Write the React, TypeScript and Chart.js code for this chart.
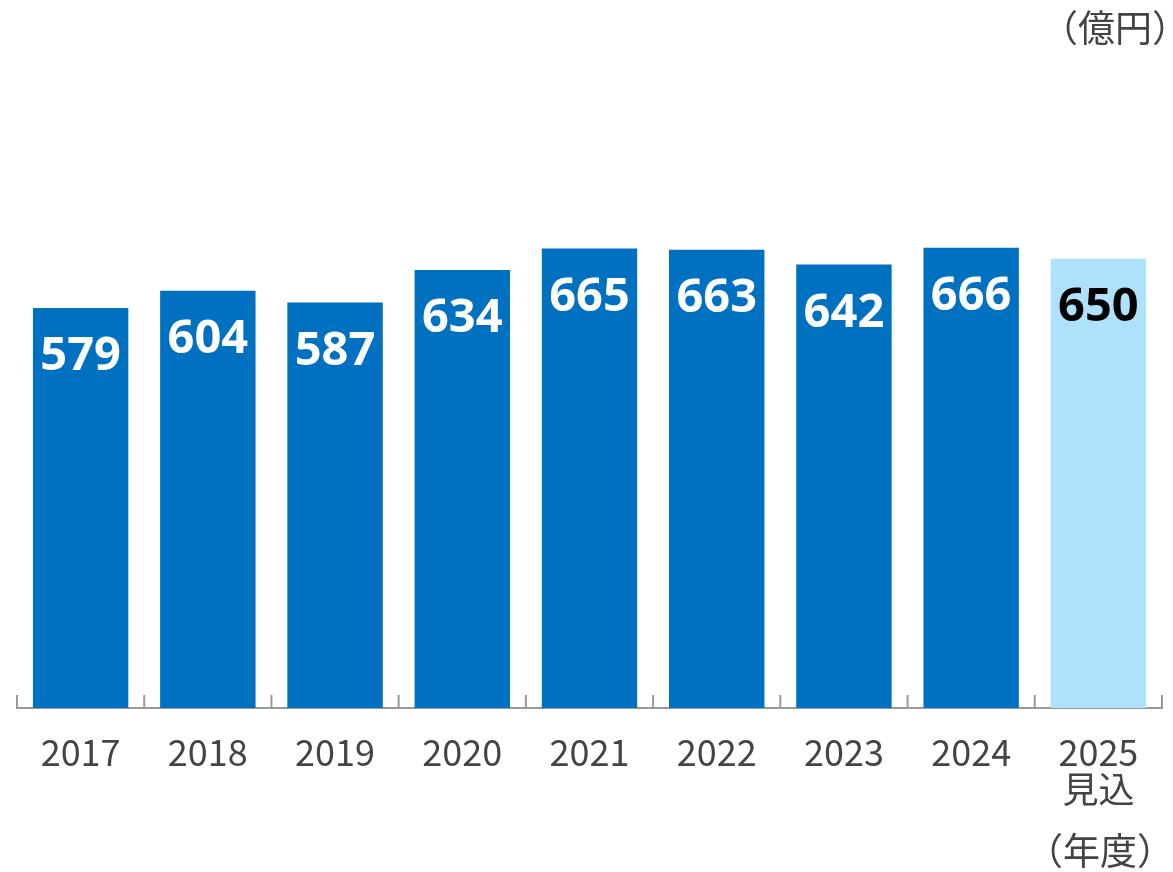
import React, { useEffect, useRef } from "react";
import { Chart, registerables } from "chart.js";

Chart.register(...registerables);

const categories: (string | string[])[] = ["2017", "2018", "2019", "2020", "2021", "2022", "2023", "2024", ["2025", "見込"]];
const values: number[] = [579, 604, 587, 634, 665, 663, 642, 666, 650];
const barColors: string[] = ["#0070C0", "#0070C0", "#0070C0", "#0070C0", "#0070C0", "#0070C0", "#0070C0", "#0070C0", "#AEE1FB"];
const labelColors: string[] = ["#FFFFFF", "#FFFFFF", "#FFFFFF", "#FFFFFF", "#FFFFFF", "#FFFFFF", "#FFFFFF", "#FFFFFF", "#000000"];
const unitLabel = "（億円）";
const xUnitLabel = "（年度）";

const FONT = "'Noto Sans CJK JP', 'Noto Sans', sans-serif";

const overlayPlugin = {
  id: "overlay",
  afterDatasetsDraw(chart: any) {
    const ctx = chart.ctx;
    const meta = chart.getDatasetMeta(0);
    ctx.save();
    ctx.font = `bold 47px 'Noto Sans', ${FONT}`;
    ctx.textAlign = "center";
    ctx.textBaseline = "middle";
    meta.data.forEach((bar: any, i: number) => {
      ctx.fillStyle = labelColors[i];
      ctx.fillText(String(values[i]), bar.x, bar.y + 49);
    });
    ctx.restore();
  },
  afterDraw(chart: any) {
    const ctx = chart.ctx;
    const xs = chart.scales.x;
    const area = chart.chartArea;
    ctx.save();
    // inward tick marks at category boundaries
    ctx.strokeStyle = "#999999";
    ctx.lineWidth = 2;
    const n = values.length;
    const step = (xs.getPixelForValue(1) - xs.getPixelForValue(0));
    for (let i = 0; i <= n; i++) {
      const x = xs.getPixelForValue(0) - step / 2 + i * step;
      ctx.beginPath();
      ctx.moveTo(x, area.bottom - 13);
      ctx.lineTo(x, area.bottom);
      ctx.stroke();
    }
    // unit labels
    ctx.fillStyle = "#444444";
    ctx.font = `37px ${FONT}`;
    ctx.textAlign = "center";
    ctx.textBaseline = "middle";
    ctx.fillText(unitLabel, 1115, 28);
    ctx.fillText(xUnitLabel, 1100, 851);
    ctx.restore();
  },
};

export default function App() {
  const ref = useRef<HTMLCanvasElement | null>(null);
  useEffect(() => {
    if (!ref.current) return;
    const chart = new Chart(ref.current, {
      type: "bar",
      data: {
        labels: categories,
        datasets: [
          {
            data: values,
            backgroundColor: barColors,
            barPercentage: 0.75,
            categoryPercentage: 1,
          },
        ],
      },
      options: {
        animation: false,
        responsive: false,
        maintainAspectRatio: false,
        layout: { padding: { left: 17, right: 11, top: 17, bottom: 0 } },
        plugins: { legend: { display: false }, tooltip: { enabled: false }, title: { display: false } },
        scales: {
          x: {
            grid: { display: false, drawTicks: false },
            border: { display: true, color: "#999999", width: 2 },
            ticks: {
              color: "#444444",
              font: { size: 36, family: FONT, lineHeight: 1.05 },
              padding: 25,
              maxRotation: 0,
              autoSkip: false,
            },
            afterFit(scale: any) {
              scale.height = 164;
            },
          },
          y: {
            display: false,
            min: 0,
            max: 1000,
          },
        },
      },
      plugins: [overlayPlugin],
    });
    return () => chart.destroy();
  }, []);
  return (
    <div style={{ position: "fixed", left: 0, top: 0, width: 1173, height: 872, background: "#fff" }}>
      <canvas ref={ref} width={1173} height={872} style={{ width: 1173, height: 872 }} />
    </div>
  );
}
